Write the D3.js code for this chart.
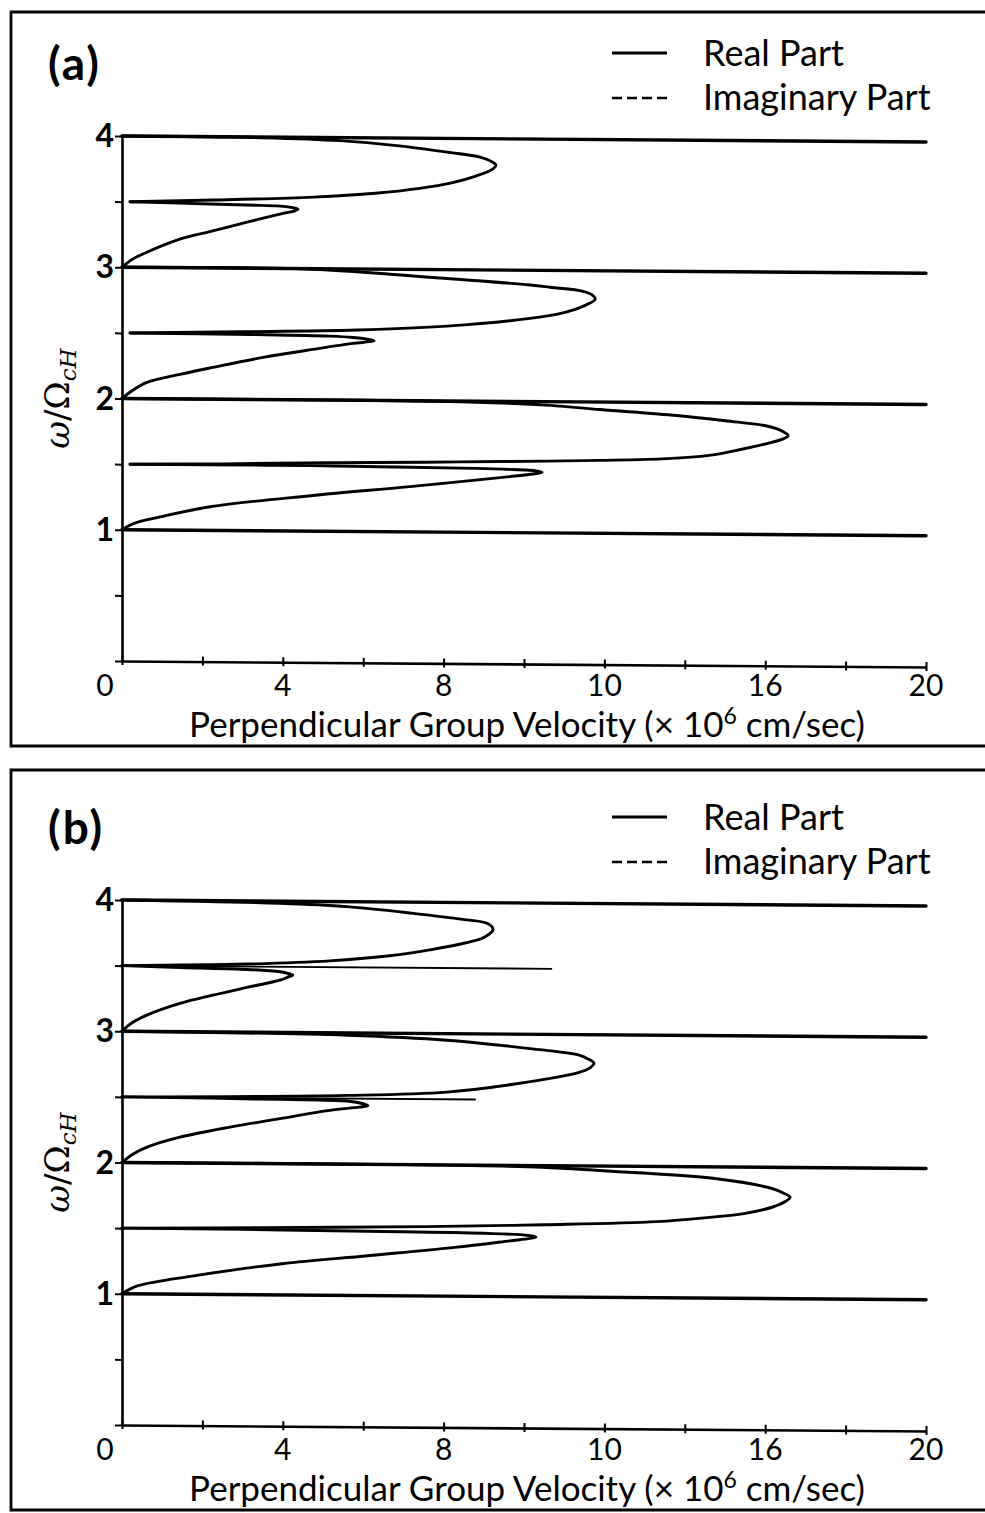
<!DOCTYPE html>
<html>
<head>
<meta charset="utf-8">
<script src="https://cdn.jsdelivr.net/npm/d3@7/dist/d3.min.js"></script>
<style>
  body { margin: 0; background: #fff; }
  svg { display: block; }
  text { font-family: Lato, "Noto Sans", sans-serif; fill: #000; }
</style>
</head>
<body>
<svg id="fig" width="985" height="1513"></svg>
<script>
// ---------------- data ----------------
// cyclotron harmonics (ω/Ω_cH) drawn as lines across the full velocity range
const harmonics = [1, 2, 3, 4];

// axis ticks
const xTickValues = [0, 2, 4, 6, 8, 10, 12, 14, 16, 18, 20];
const xLabelValues = [0, 4, 8, 12, 16, 20];
const xTickLabels = ["0", "4", "8", "10", "16", "20"];
const yTickValues = [0, 0.5, 1, 1.5, 2, 2.5, 3, 3.5, 4];
const yLabelValues = [1, 2, 3, 4];
const yTickLabels = ["1", "2", "3", "4"];

// branches of the real part: [perpendicular group velocity (1e6 cm/s), ω/Ω_cH]
// panel (a)
const aLower1 = [[0,1.0],[0.3,1.05],[0.95,1.10],[2.19,1.18],[4.68,1.27],[7.16,1.345],[9.65,1.427],
  [10.3,1.452],[10.45,1.462],[10.3,1.472],[9.7,1.481],[8.8,1.488],[7.16,1.493],[4.7,1.499],[2.0,1.5],[0.2,1.5]];
const aUpper1 = [[0.2,1.5],[2.5,1.508],[5.17,1.522],[7.5,1.532],[9.4,1.541],[11.89,1.556],[13.56,1.573],
  [14.6,1.60],[15.2,1.634],[16.04,1.693],[16.45,1.73],[16.57,1.755],[16.45,1.785],[16.04,1.827],[15.0,1.865],
  [13.8,1.902],[11.89,1.943],[10.65,1.972],[8.83,1.992],[6.0,2.0],[0,2.0]];
const aLower2 = [[0,2.0],[0.25,2.06],[0.62,2.124],[1.44,2.187],[2.26,2.242],[3.51,2.321],[4.75,2.385],
  [5.75,2.433],[6.15,2.447],[6.27,2.455],[6.1,2.466],[5.75,2.478],[5.17,2.487],[3.2,2.495],[0.2,2.5]];
const aUpper2 = [[0.2,2.5],[3.0,2.515],[5.85,2.535],[8.08,2.57],[10.15,2.634],[11.02,2.682],[11.55,2.74],
  [11.77,2.783],[11.7,2.815],[11.47,2.843],[10.65,2.872],[10.15,2.888],[7.24,2.95],[4.75,2.996],[0,3.0]];
const aLower3 = [[0,3.0],[0.25,3.06],[0.62,3.116],[1.44,3.217],[2.26,3.282],[3.11,3.351],[3.93,3.414],
  [4.3,3.44],[4.38,3.453],[4.2,3.466],[3.93,3.475],[3.11,3.481],[1.44,3.492],[0.2,3.5]];
const aUpper3 = [[0.2,3.5],[2.26,3.517],[4.75,3.545],[6.3,3.578],[7.4,3.618],[8.2,3.662],[8.8,3.715],
  [9.2,3.765],[9.3,3.80],[9.2,3.825],[8.91,3.86],[8.08,3.896],[6.84,3.942],[5.42,3.977],[3.5,3.995],[0,4.0]];

// panel (b)
const bLower1 = [[0,1.0],[0.4,1.062],[1.82,1.142],[3.98,1.238],[6.12,1.304],[8.28,1.372],[9.65,1.425],
  [10.15,1.445],[10.3,1.456],[10.1,1.468],[9.0,1.481],[6.12,1.49],[3.0,1.497],[0,1.5]];
const bUpper1 = [[0,1.5],[3.5,1.512],[7.56,1.529],[10.5,1.55],[13.3,1.58],[14.6,1.615],[15.47,1.646],
  [16.17,1.696],[16.5,1.74],[16.62,1.773],[16.45,1.805],[16.17,1.839],[14.75,1.912],[11.87,1.966],
  [10.45,1.988],[7.0,2.0],[0,2.0]];
const bLower2 = [[0,2.0],[0.25,2.06],[0.62,2.118],[1.44,2.196],[2.69,2.276],[3.93,2.343],[5.17,2.409],
  [5.9,2.435],[6.12,2.447],[5.95,2.465],[5.6,2.481],[3.93,2.49],[0,2.5]];
const bUpper2 = [[0,2.5],[5.6,2.524],[8.08,2.555],[9.73,2.618],[11.39,2.715],[11.65,2.75],[11.74,2.783],
  [11.6,2.815],[11.39,2.843],[10.15,2.891],[8.08,2.95],[5.6,2.982],[0,3.0]];
const bLower3 = [[0,3.0],[0.25,3.065],[0.62,3.124],[1.44,3.215],[2.26,3.28],[3.11,3.341],[3.93,3.398],
  [4.15,3.425],[4.25,3.437],[4.1,3.452],[3.93,3.462],[3.11,3.478],[1.44,3.488],[0,3.5]];
const bUpper3 = [[0,3.5],[3.11,3.519],[5.17,3.548],[6.6,3.588],[7.7,3.64],[8.5,3.69],[9.0,3.735],
  [9.23,3.797],[9.08,3.843],[8.48,3.872],[7.24,3.915],[5.6,3.962],[3.93,3.984],[0,4.0]];
// panel (b) half-harmonic lines: [ω/Ω_cH, velocity at end]
const bHalfLines = [[2.5, 8.8], [3.5, 10.7]];

// ---------------- drawing ----------------
const W = 985;
const svg = d3.select("#fig");
const x = d3.scaleLinear().domain([0, 20]).range([0, 804]);
const y = d3.scaleLinear().domain([0, 4]).range([525, 0]);
const tilt = Math.atan(6 / 804) * 180 / Math.PI;   // slight tilt of the printed plot

const curve = d3.line()
  .x(d => x(d[0]))
  .y(d => y(d[1]))
  .curve(d3.curveCatmullRom.alpha(0.5));

function drawPanel(p) {
  // open frame (closed on the left, runs off the right edge)
  svg.append("path")
    .attr("d", `M${W},${p.frameTop} H11 V${p.frameBottom} H${W}`)
    .attr("fill", "none").attr("stroke", "#000").attr("stroke-width", 2.8);

  const g = svg.append("g").attr("transform", `translate(122,${p.top})`);
  const plot = g.append("g").attr("transform", `skewY(${tilt})`);

  // x axis: ticks crossing the baseline
  plot.append("g").attr("transform", `translate(0,${y(0)})`)
    .call(d3.axisBottom(x).tickValues(xTickValues).tickSizeInner(4).tickSizeOuter(0).tickFormat(""))
    .call(a => a.select(".domain").attr("stroke-width", 2.6));
  plot.append("g").attr("transform", `translate(0,${y(0)})`)
    .call(d3.axisBottom(x).tickValues(xTickValues).tickSizeInner(-5).tickSizeOuter(0).tickFormat(""))
    .call(a => a.select(".domain").remove());
  plot.selectAll(".tick line").attr("stroke-width", 2);

  // y axis
  plot.append("g")
    .call(d3.axisLeft(y).tickValues(yTickValues).tickSizeInner(7).tickSizeOuter(0).tickFormat(""))
    .call(a => a.select(".domain").attr("stroke-width", 2.6))
    .call(a => a.selectAll(".tick line").attr("stroke-width", 2));

  // harmonic lines
  plot.selectAll(".harm").data(harmonics).join("line")
    .attr("class", "harm")
    .attr("x1", x(0)).attr("x2", x(20))
    .attr("y1", d => y(d)).attr("y2", d => y(d))
    .attr("stroke", "#000").attr("stroke-width", 3.4).attr("stroke-linecap", "round");

  // half-harmonic lines
  plot.selectAll(".half").data(p.half).join("line")
    .attr("class", "half")
    .attr("x1", x(0)).attr("x2", d => x(d[1]))
    .attr("y1", d => y(d[0])).attr("y2", d => y(d[0]))
    .attr("stroke", "#000").attr("stroke-width", 1.9);

  // real-part branches
  plot.selectAll(".branch").data(p.branches).join("path")
    .attr("class", "branch")
    .attr("d", curve)
    .attr("fill", "none").attr("stroke", "#000")
    .attr("stroke-width", 2.9).attr("stroke-linejoin", "round").attr("stroke-linecap", "round");

  // x tick labels
  g.selectAll(".xl").data(xLabelValues).join("text")
    .attr("class", "xl")
    .attr("x", (d, i) => x(d) + (i === 0 ? -17 : 0))
    .attr("y", y(0) + 35)
    .attr("text-anchor", "middle")
    .attr("font-size", 30)
    .text((d, i) => xTickLabels[i]);

  // y tick labels
  g.selectAll(".yl").data(yLabelValues).join("text")
    .attr("class", "yl")
    .attr("x", -8)
    .attr("y", d => y(d) + 11)
    .attr("text-anchor", "end")
    .attr("font-size", 32)
    .attr("font-weight", "bold")
    .text((d, i) => yTickLabels[i]);

  // x axis title
  const xt = g.append("text")
    .attr("x", 405).attr("y", y(0) + 76)
    .attr("text-anchor", "middle")
    .attr("font-size", 35);
  xt.append("tspan").text("Perpendicular Group Velocity (\u00d7 10");
  xt.append("tspan").attr("dy", -13).attr("font-size", 23).text("6");
  xt.append("tspan").attr("dy", 13).text(" cm/sec)");

  // y axis title
  const yt = svg.append("text")
    .attr("transform", `translate(69,${p.top + y(2)}) rotate(-90)`)
    .attr("text-anchor", "middle")
    .attr("font-size", 34)
    .style("font-family", "'DejaVu Serif', 'Liberation Serif', serif");
  yt.append("tspan").attr("font-style", "italic").text("\u03c9");
  yt.append("tspan").text("/\u03a9");
  yt.append("tspan").attr("font-style", "italic").attr("font-size", 23).attr("dy", 7).text("cH");

  // panel tag
  svg.append("text")
    .attr("x", 48).attr("y", p.top - 56)
    .attr("font-size", 46).attr("font-weight", "bold")
    .attr("letter-spacing", 2)
    .text(p.tag);

  // legend
  const lg = svg.append("g").attr("transform", `translate(612,${p.top - 83})`);
  lg.append("line").attr("x1", 0).attr("x2", 55).attr("y1", 0).attr("y2", 0)
    .attr("stroke", "#000").attr("stroke-width", 3);
  lg.append("text").attr("x", 91).attr("y", 13).attr("font-size", 36).text("Real Part");
  lg.append("line").attr("x1", 0).attr("x2", 55).attr("y1", 45).attr("y2", 45)
    .attr("stroke", "#000").attr("stroke-width", 2.6).attr("stroke-dasharray", "10,5");
  lg.append("text").attr("x", 91).attr("y", 57).attr("font-size", 36).text("Imaginary Part");
}

drawPanel({
  tag: "(a)", top: 136, frameTop: 12, frameBottom: 746, half: [],
  branches: [aLower1, aUpper1, aLower2, aUpper2, aLower3, aUpper3]
});
drawPanel({
  tag: "(b)", top: 900, frameTop: 770, frameBottom: 1510, half: bHalfLines,
  branches: [bLower1, bUpper1, bLower2, bUpper2, bLower3, bUpper3]
});
</script>
</body>
</html>
